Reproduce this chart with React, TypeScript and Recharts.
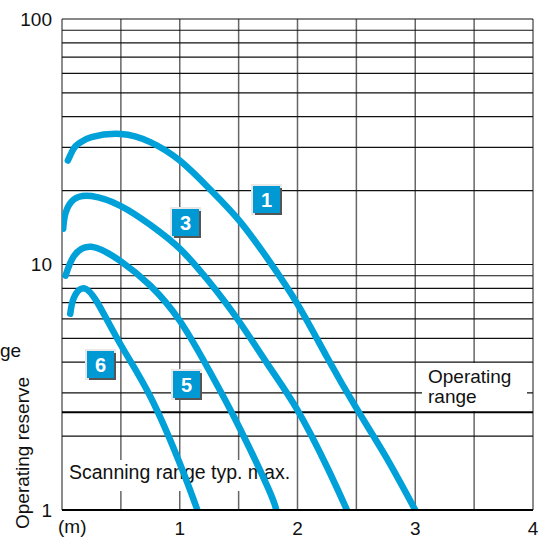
import { LineChart, Line, XAxis, YAxis, CartesianGrid, ReferenceLine } from 'recharts'

// Betriebsreserve über Tastweite, 4 Kurven (Lichttaster)
const curve1X = [0.05, 0.1, 0.15, 0.25, 0.5, 0.75, 1.0, 1.25, 1.5, 1.75, 2.0, 2.25, 2.5, 2.75, 3.0]
const curve1Y = [26.5, 29.7, 31.3, 33.0, 34.0, 31.5, 26.5, 20.4, 15.2, 10.5, 6.9, 4.2, 2.6, 1.65, 1.0]

const curve3X = [0.01, 0.03, 0.1, 0.25, 0.5, 0.75, 1.0, 1.25, 1.5, 1.75, 2.0, 2.25, 2.42]
const curve3Y = [14.0, 16.2, 18.4, 19.0, 17.3, 14.5, 11.6, 8.5, 5.9, 3.9, 2.55, 1.5, 1.0]

const curve5X = [0.03, 0.1, 0.25, 0.5, 0.75, 1.0, 1.25, 1.5, 1.75, 1.82]
const curve5Y = [9.0, 10.8, 11.8, 10.3, 8.2, 5.9, 3.7, 2.2, 1.23, 1.0]

const curve6X = [0.07, 0.1, 0.18, 0.3, 0.5, 0.75, 1.0, 1.15]
const curve6Y = [6.3, 7.3, 8.0, 7.0, 4.7, 2.9, 1.55, 1.0]

const xTicks = [1, 2, 3, 4]
const yTicks = [1, 10, 100]
const xGrid = [0, 0.5, 1, 1.5, 2, 2.5, 3, 3.5, 4]
const yGrid = [1, 2, 3, 4, 5, 6, 7, 8, 9, 10, 20, 30, 40, 50, 60, 70, 80, 90, 100]
const operatingLimit = 2.5

const toRows = (xs: number[], ys: number[]) => xs.map((x, i) => ({ x, y: ys[i] }))

const series = [
  { id: '1', data: toRows(curve1X, curve1Y) },
  { id: '3', data: toRows(curve3X, curve3Y) },
  { id: '5', data: toRows(curve5X, curve5Y) },
  { id: '6', data: toRows(curve6X, curve6Y) },
]

const BLUE = '#00a0d8'
const FONT = '"Liberation Sans", Arial, sans-serif'

function NumBox({ x, y, label }: { x: number; y: number; label: string }) {
  return (
    <g>
      <rect x={x - 2} y={y - 2} width={31} height={31} fill="#e8e8e8" />
      <rect x={x + 2} y={y + 2} width={27} height={27} fill="#555" />
      <rect x={x} y={y} width={27} height={27} fill="#0099d4" />
      <text x={x + 13.5} y={y + 20.5} textAnchor="middle" fill="#fff" fontSize={20} fontWeight="bold">
        {label}
      </text>
    </g>
  )
}

export default function App() {
  return (
    <div style={{ width: 541, height: 538 }}>
      <style>{'body{margin:0}'}</style>
      <LineChart
        width={541}
        height={538}
        margin={{ top: 19, right: 8, bottom: 0, left: 0 }}
        style={{ fontFamily: FONT }}
      >
        <CartesianGrid horizontal={false} vertical={true} verticalValues={xGrid} stroke="#666" strokeWidth={1.5} />
        <CartesianGrid horizontal={true} vertical={false} horizontalValues={yGrid} stroke="#111" strokeWidth={1.2} />
        <XAxis
          type="number"
          dataKey="x"
          domain={[0, 4]}
          ticks={xTicks}
          interval={0}
          allowDataOverflow
          height={28}
          tickLine={false}
          tickSize={0}
          tickMargin={12}
          axisLine={{ stroke: '#000', strokeWidth: 2 }}
          tick={{ fontSize: 19, fill: '#111' }}
        />
        <YAxis
          type="number"
          dataKey="y"
          scale="log"
          domain={[1, 100]}
          ticks={yTicks}
          interval={0}
          allowDataOverflow
          width={62}
          tickLine={false}
          tickSize={0}
          tickMargin={10}
          axisLine={false}
          tick={{ fontSize: 19, fill: '#111' }}
        />
        <rect x={64} y={460} width={230} height={31} fill="#fff" />
        <rect x={422} y={363} width={105} height={48} fill="#fff" />
        <text x={69} y={479} fontSize={19.5} fill="#111">Scanning range typ. max.</text>
        <text x={428} y={383} fontSize={19} fill="#111">Operating</text>
        <text x={428} y={403} fontSize={19} fill="#111">range</text>
        <ReferenceLine y={operatingLimit} stroke="#000" strokeWidth={2} />
        {series.map((s) => (
          <Line
            key={s.id}
            data={s.data}
            dataKey="y"
            type="natural"
            stroke={BLUE}
            strokeWidth={6.5}
            strokeLinecap="round"
            dot={false}
            isAnimationActive={false}
          />
        ))}
        <text x={58} y={533} fontSize={19} fill="#111">(m)</text>
        <text x={0} y={357} fontSize={19} fill="#111">ge</text>
        <text x={29} y={453} fontSize={19} fill="#111" textAnchor="middle" transform="rotate(-90 29 453)">
          Operating reserve
        </text>
        <NumBox x={253} y={186} label="1" />
        <NumBox x={172} y={209} label="3" />
        <NumBox x={173} y={371} label="5" />
        <NumBox x={87} y={351} label="6" />
      </LineChart>
    </div>
  )
}
